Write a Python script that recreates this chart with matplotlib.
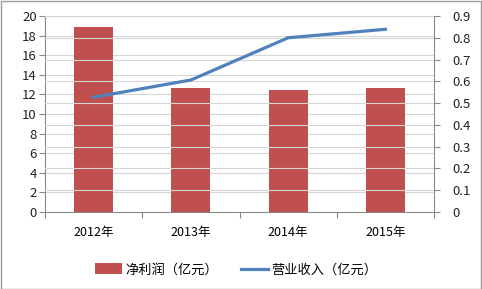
import matplotlib
matplotlib.use("Agg")
import matplotlib.pyplot as plt
from matplotlib.patches import Rectangle

plt.rcParams['font.family'] = ['Noto Sans CJK SC', 'DejaVu Sans']

categories = ['2012年', '2013年', '2014年', '2015年']
net_profit = [18.9, 12.65, 12.45, 12.65]
revenue = [0.527, 0.606, 0.80, 0.839]
left_ticks = list(range(0, 21, 2))
right_ticks = [0, 0.1, 0.2, 0.3, 0.4, 0.5, 0.6, 0.7, 0.8, 0.9]
right_labels = ['0', '0.1', '0.2', '0.3', '0.4', '0.5', '0.6', '0.7', '0.8', '0.9']

W, H = 482, 289
fig = plt.figure(figsize=(W / 100, H / 100), dpi=100)
fig.patches.append(Rectangle((0.5 / W, 0.5 / H), 1 - 1.5 / W, 1 - 1.5 / H,
                             transform=fig.transFigure, fill=False,
                             edgecolor='#9a9a9a', lw=1.0))

x0, x1 = 45, 434
y_top, y_bot = 16, 212
ax = fig.add_axes([x0 / W, 1 - y_bot / H, (x1 - x0) / W, (y_bot - y_top) / H])
ax2 = ax.twinx()

xs = list(range(len(categories)))
ax.bar(xs, net_profit, width=0.4, color='#C0504D', zorder=3, label='净利润（亿元）')
ax2.plot(xs, revenue, color='#4F81BD', lw=2.3, zorder=4, label='营业收入（亿元）')

ax.set_xlim(-0.5, len(categories) - 0.5)
ax.set_ylim(0, 20)
ax2.set_ylim(0, 0.9)
ax.set_yticks(left_ticks)
ax2.set_yticks(right_ticks)
ax2.set_yticklabels(right_labels)

grid_c = '#d6d6d6'
for v in left_ticks[1:]:
    ax.axhline(v, color=grid_c, lw=0.8, zorder=1)
for v in right_ticks[1:]:
    ax2.axhline(v, color=grid_c, lw=0.8, zorder=0)
ax.set_axisbelow(True)

ax.set_xticks([i - 0.5 for i in range(len(categories) + 1)])
ax.set_xticklabels([])
ax.set_xticks(xs, minor=True)
ax.set_xticklabels(categories, minor=True, fontsize=9)
ax.tick_params(axis='x', which='minor', length=0, pad=10)
ax.tick_params(axis='x', which='major', length=4, color='#888888')

ax.tick_params(axis='y', labelsize=9.5, length=4, color='#888888', pad=2, labelcolor='#222222')
ax2.tick_params(axis='y', labelsize=9.5, length=4, color='#888888', pad=9, labelcolor='#222222')

for a in (ax, ax2):
    for s in a.spines.values():
        s.set_visible(False)
ax.spines['left'].set_visible(True)
ax.spines['left'].set_color('#888888')
ax.spines['bottom'].set_visible(True)
ax.spines['bottom'].set_color('#888888')
ax2.spines['right'].set_visible(True)
ax2.spines['right'].set_color('#888888')

h1, l1 = ax.get_legend_handles_labels()
h2, l2 = ax2.get_legend_handles_labels()
fig.legend(h1 + h2, l1 + l2, loc='center', bbox_to_anchor=(0.49, 1 - 270 / H),
           ncol=2, frameon=False, fontsize=9.5, handlelength=2.0,
           handleheight=0.9, columnspacing=1.8, handletextpad=0.25)

fig.savefig('out.png', dpi=100)
